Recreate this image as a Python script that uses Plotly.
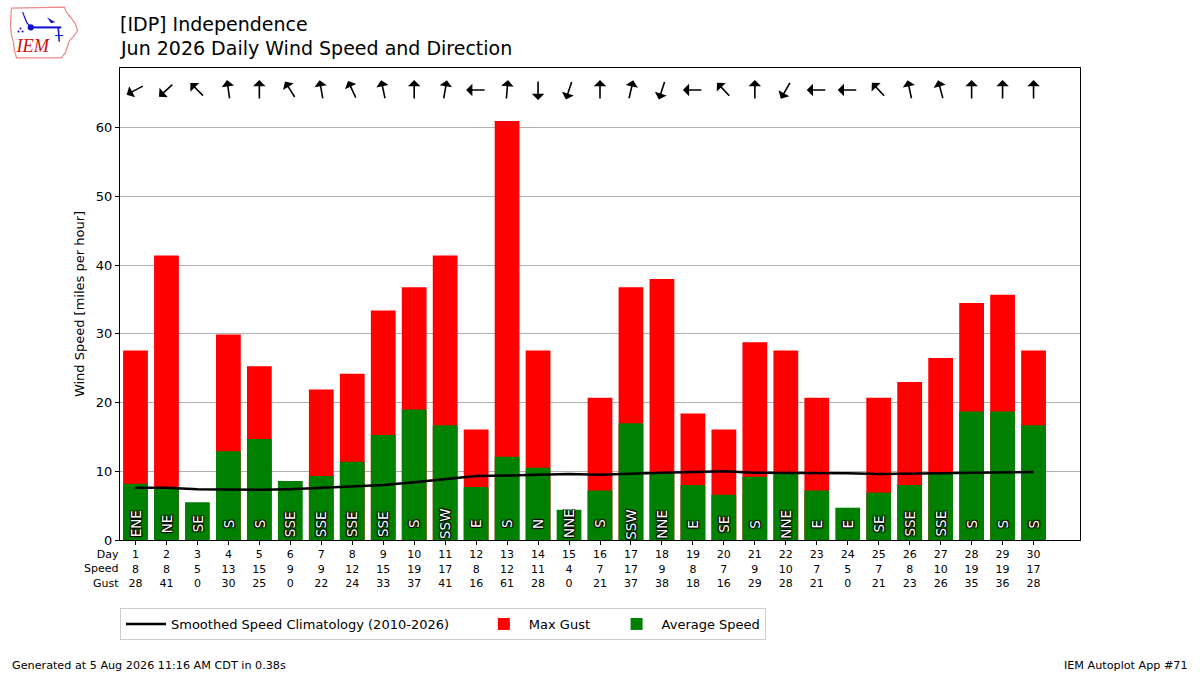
import math
import base64
import plotly.graph_objects as go

days = list(range(1, 31))
avg_speed = [8.2, 7.7, 5.5, 12.9, 14.7, 8.6, 9.3, 11.4, 15.3, 19.0,
             16.7, 7.7, 12.1, 10.5, 4.4, 7.2, 17.0, 9.6, 8.0, 6.6,
             9.2, 9.9, 7.2, 4.7, 6.9, 8.0, 9.7, 18.7, 18.7, 16.7]
max_gust = [27.6, 41.4, 0, 29.9, 25.3, 0, 21.9, 24.2, 33.4, 36.8,
            41.4, 16.1, 61.0, 27.6, 0, 20.7, 36.8, 38.0, 18.4, 16.1,
            28.8, 27.6, 20.7, 0, 20.7, 23.0, 26.5, 34.5, 35.7, 27.6]
climo = [7.6, 7.6, 7.4, 7.3, 7.3, 7.4, 7.6, 7.8, 8.0, 8.4,
         8.9, 9.3, 9.4, 9.5, 9.6, 9.5, 9.7, 9.8, 9.9, 10.0,
         9.8, 9.8, 9.8, 9.7, 9.6, 9.6, 9.7, 9.8, 9.8, 9.9]
dir_text = ["ENE", "NE", "SE", "S", "S", "SSE", "SSE", "SSE", "SSE", "S",
            "SSW", "E", "S", "N", "NNE", "S", "SSW", "NNE", "E", "SE",
            "S", "NNE", "E", "E", "SE", "SSE", "SSE", "S", "S", "S"]
dir_deg = [62, 48, 135, 172, 180, 148, 170, 155, 168, 180,
           190, 90, 185, 0, 18, 180, 193, 18, 90, 137,
           180, 30, 90, 90, 137, 168, 165, 180, 180, 180]
speed_lbl = [8, 8, 5, 13, 15, 9, 9, 12, 15, 19, 17, 8, 12, 11, 4,
             7, 17, 9, 8, 7, 9, 10, 7, 5, 7, 8, 10, 19, 19, 17]
gust_lbl = [28, 41, 0, 30, 25, 0, 22, 24, 33, 37, 41, 16, 61, 28, 0,
            21, 37, 38, 18, 16, 29, 28, 21, 0, 21, 23, 26, 35, 36, 28]

FONT = "DejaVu Sans"
L, R, T, B = 120, 120, 68, 135
W, H = 1200, 675
PH = H - T - B
PW = W - L - R
NB = "\u00a0"


def py(p):
    return 1 - (p - T) / PH


def px(p):
    return (p - L) / PW


fig = go.Figure()
fig.add_trace(go.Bar(x=days, y=max_gust, marker_color="#ff0000", width=0.8,
                     name="Max Gust" + NB * 4, legendrank=2, marker_line_width=0))
fig.add_trace(go.Bar(x=days, y=avg_speed, marker_color="#008000", width=0.8,
                     name="Average Speed", legendrank=3, marker_line_width=0))
fig.add_trace(go.Scatter(x=days, y=climo, mode="lines",
                         line=dict(color="black", width=2.5),
                         name="Smoothed Speed Climatology (2010-2026)" + NB * 6,
                         legendrank=1))

ann = []
# direction labels inside bars
for d, t in zip(days, dir_text):
    ann.append(dict(x=d, y=2.35, xref="x", yref="y", text=t, textangle=-90,
                    showarrow=False, xanchor="center", yanchor="middle",
                    font=dict(family=FONT, size=13.5, color="white",
                              shadow="1px 1px 1px black, -1px -1px 1px black, 1px -1px 1px black, -1px 1px 1px black")))
# wind arrows
half = 10
for d, deg in zip(days, dir_deg):
    th = math.radians(deg + 180)
    dx, dy = math.sin(th), math.cos(th)
    ann.append(dict(x=d, y=65.5, xref="x", yref="y", text="",
                    showarrow=True, arrowhead=1, arrowsize=1.3, arrowwidth=1.6,
                    arrowcolor="black",
                    xshift=half * dx, yshift=half * dy,
                    ax=-2 * half * dx, ay=2 * half * dy))
# table row labels
ann.append(dict(x=px(121), y=py(546), xref="paper", yref="paper",
                text="Day<br>Speed<br>Gust", align="right", showarrow=False,
                xanchor="right", yanchor="top",
                font=dict(family=FONT, size=11, color="black")))
# titles
ann.append(dict(x=px(118), y=py(24), xref="paper", yref="paper",
                text="[IDP] Independence", showarrow=False, xanchor="left",
                yanchor="middle", font=dict(family=FONT, size=19, color="black")))
ann.append(dict(x=px(118), y=py(48), xref="paper", yref="paper",
                text="Jun 2026 Daily Wind Speed and Direction", showarrow=False,
                xanchor="left", yanchor="middle",
                font=dict(family=FONT, size=19, color="black")))
# footer
ann.append(dict(x=px(10), y=py(665), xref="paper", yref="paper",
                text="Generated at 5 Aug 2026 11:16 AM CDT in 0.38s",
                showarrow=False, xanchor="left", yanchor="middle",
                font=dict(family=FONT, size=11.2, color="black")))
ann.append(dict(x=px(1190), y=py(665), xref="paper", yref="paper",
                text="IEM Autoplot App #71", showarrow=False, xanchor="right",
                yanchor="middle", font=dict(family=FONT, size=11.2, color="black")))

ticktext = [f"{d}<br>{s}<br>{g}" for d, s, g in zip(days, speed_lbl, gust_lbl)]

logo_svg = (
    "<svg xmlns='http://www.w3.org/2000/svg' width='72' height='56' viewBox='0 0 72 56'>"
    "<path d='M3 4 L55 3 L57 8 L62 14 L66 20 L68 26 L64 32 L60 36 L58 42 L56 48 L52 53 "
    "L8 53 L6 46 L5 38 L3 30 L2 20 Z' fill='white' stroke='#e88' stroke-width='1.2'/>"
    "<line x1='22' y1='23' x2='52' y2='23' stroke='#1010d0' stroke-width='2'/>"
    "<circle cx='22' cy='23' r='3' fill='#1010d0'/>"
    "<path d='M14 8 L18 18 L22 23' stroke='#1010d0' fill='none' stroke-width='1.2'/>"
    "<path d='M38 13 L46 18 L42 19 Z' fill='#1010d0'/>"
    "<line x1='49' y1='23' x2='50' y2='37' stroke='#1010d0' stroke-width='1.5'/>"
    "<line x1='46' y1='31' x2='54' y2='31' stroke='#1010d0' stroke-width='1'/>"
    "<circle cx='12' cy='24' r='1' fill='#1010d0'/><circle cx='10' cy='27' r='1' fill='#1010d0'/>"
    "<circle cx='14' cy='27' r='1' fill='#1010d0'/>"
    "<text x='8' y='47' font-family='Liberation Serif' font-style='italic' font-size='18' "
    "fill='#d01010'>IEM</text></svg>"
)
logo_uri = "data:image/svg+xml;base64," + base64.b64encode(logo_svg.encode()).decode()

fig.update_layout(
    width=W, height=H,
    margin=dict(l=L, r=R, t=T, b=B),
    paper_bgcolor="white", plot_bgcolor="white",
    barmode="overlay",
    font=dict(family=FONT, size=13, color="black"),
    showlegend=True,
    legend=dict(orientation="h", x=0, xanchor="left", y=py(608), yanchor="top",
                bordercolor="#cccccc", borderwidth=1,
                font=dict(family=FONT, size=13), traceorder="normal",
                itemwidth=40),
    annotations=ann,
    images=[dict(source=logo_uri, xref="paper", yref="paper",
                 x=px(8), y=py(4), sizex=74 / PW, sizey=57 / PH,
                 xanchor="left", yanchor="top", sizing="contain", layer="above")],
    xaxis=dict(range=[0.5, 31.5], tickmode="array", tickvals=days,
               ticktext=ticktext, ticks="outside", ticklen=4, tickcolor="black",
               tickfont=dict(family=FONT, size=11), showgrid=False,
               showline=True, linecolor="black", linewidth=1, mirror=True,
               zeroline=False, tickangle=0),
    yaxis=dict(range=[0, 68.7], tickmode="array", tickvals=[0, 10, 20, 30, 40, 50, 60],
               ticks="outside", ticklen=4, tickcolor="black",
               showgrid=True, gridcolor="#b0b0b0", gridwidth=1,
               showline=True, linecolor="black", linewidth=1, mirror=True,
               zeroline=False,
               title=dict(text="Wind Speed [miles per hour]", font=dict(size=13),
                          standoff=8),
               tickfont=dict(size=13)),
)

fig.write_html("out.html", config={"displayModeBar": False},
               post_script="document.body.style.margin='0';document.body.style.overflow='hidden';")
